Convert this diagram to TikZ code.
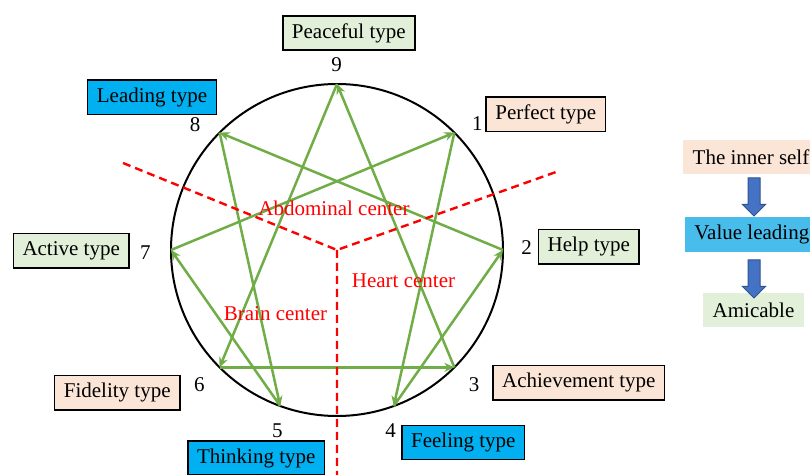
\documentclass[tikz,border=0pt]{standalone}
\usepackage{fontspec}
\setmainfont{Liberation Serif}
\usetikzlibrary{arrows.meta,shapes.arrows}
\definecolor{typegreen}{HTML}{E2F0D9}
\definecolor{typepeach}{HTML}{FBE5D6}
\definecolor{typecyan}{HTML}{00B0F0}
\definecolor{valueblue}{HTML}{48BDEC}
\definecolor{arrowblue}{HTML}{4472C4}
\definecolor{arrowedge}{HTML}{2F528F}
\definecolor{edgegreen}{HTML}{70AD47}
\begin{document}
\begin{tikzpicture}
[x=0.5pt,y=-0.5pt,font=\fontsize{10.5}{12}\selectfont,
 box/.style={draw=black,line width=0.75pt,inner xsep=4.6pt,inner ysep=0pt,minimum height=17.2pt},
 plain/.style={inner xsep=4.6pt,inner ysep=0pt,minimum height=17.2pt},
 num/.style={inner sep=0pt},
 centre/.style={text=red,inner sep=0pt},
 line/.style={draw=edgegreen,line width=1.25pt,-{Stealth[length=5pt,width=4.5pt]}},
 div/.style={draw=red,line width=1.2pt,dash pattern=on 4pt off 2.5pt},
 blockarrow/.style={single arrow,shape border rotate=270,draw=arrowedge,fill=arrowblue,
   line width=0.5pt,inner sep=2.75pt,minimum height=19pt,minimum width=11pt,
   single arrow head extend=2.75pt}]
\useasboundingbox (0,0) rectangle (810,475);
\path (337,250) coordinate (c);
\foreach \n/\a in {9/-90,1/-45,2/0,3/45,4/70,5/110,6/135,7/180,8/-135}
  \path (c) ++(\a:166) coordinate (p\n);
\draw [line width=1pt] (c) circle [radius=166];
\foreach \s/\t in {9/6,6/3,3/9,1/4,4/2,2/8,8/5,5/7,7/1}
  \draw [line] (p\s) -- (p\t);
\path (123,163) coordinate (d1)
(556,172) coordinate (d2)
(337,482) coordinate (d3);
\draw [div] (d1) -- (c) -- (d2) (c) -- (d3);
\path (336.7,64.3) node (n9) [num] {9}
(477.3,123.3) node (n1) [num] {1}
(526.7,247.7) node (n2) [num] {2}
(474,385) node (n3) [num] {3}
(390.7,431) node (n4) [num] {4}
(277.3,431) node (n5) [num] {5}
(199.3,385) node (n6) [num] {6}
(145.3,252.3) node (n7) [num] {7}
(195,124.3) node (n8) [num] {8};
\path (348.8,33) node (peaceful) [box,fill=typegreen] {Peaceful type}
(152,97.2) node (leading) [box,fill=typecyan] {Leading type}
(545.8,114.3) node (perfect) [box,fill=typepeach] {Perfect type}
(588.8,246.8) node (help) [box,fill=typegreen] {Help type}
(578.8,382.8) node (achievement) [box,fill=typepeach] {Achievement type}
(463.3,442.5) node (feeling) [box,fill=typecyan] {Feeling type}
(256.2,458) node (thinking) [box,fill=typecyan] {Thinking type}
(117.2,392.8) node (fidelity) [box,fill=typepeach] {Fidelity type}
(71.2,250.8) node (active) [box,fill=typegreen] {Active type};
\path (334,208) node (abdominal) [centre] {Abdominal center}
(403.5,281) node (heart) [centre] {Heart center}
(275.5,314) node (brain) [centre] {Brain center};
\path (751,157) node (self) [plain,fill=typepeach] {The inner self}
(751.8,234.5) node (value) [plain,fill=valueblue] {Value leading}
(753.5,310.3) node (amicable) [plain,fill=typegreen] {Amicable};
\path (754,194) node (down1) [blockarrow] {}
(754,276) node (down2) [blockarrow] {};
\end{tikzpicture}
\end{document}
